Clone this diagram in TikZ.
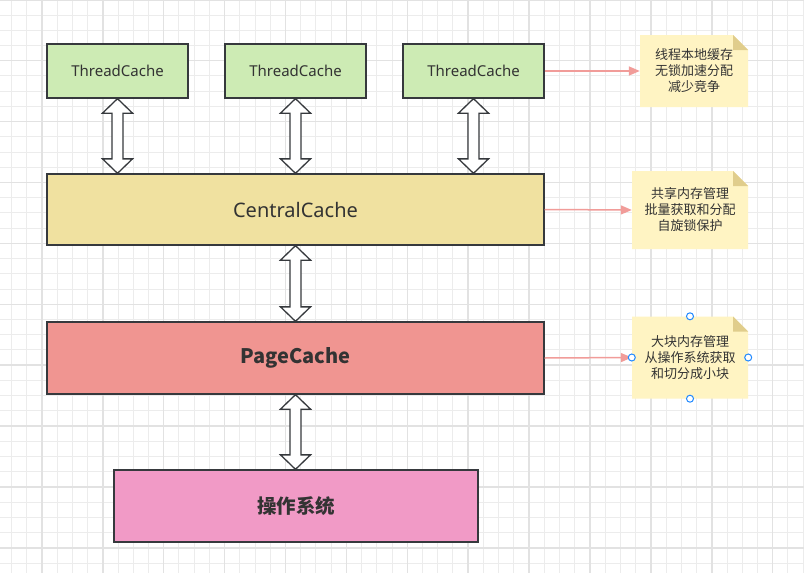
\documentclass[tikz,border=0pt]{standalone}
\usepackage{fontspec}
\setmainfont{Noto Sans}
\newfontfamily\cjk{Noto Sans CJK SC}
\usetikzlibrary{arrows.meta,calc}
\definecolor{strk}{HTML}{36393D}
\definecolor{txt}{HTML}{333333}
\definecolor{tcfill}{HTML}{CDEBB4}
\definecolor{ccfill}{HTML}{F0E1A0}
\definecolor{pcfill}{HTML}{F09591}
\definecolor{osfill}{HTML}{F19AC6}
\definecolor{notefill}{HTML}{FFF4C3}
\definecolor{foldfill}{HTML}{E0CD8C}
\definecolor{connc}{HTML}{F19C99}
\definecolor{minorg}{HTML}{ECECEC}
\definecolor{majorg}{HTML}{E2E2E2}
\definecolor{handlec}{HTML}{1E88FF}
\newcommand\dblarr[2]{\draw[dbl] (#1) -- ++(15pt,-14.5pt) -- ++(-9.5pt,0pt) -- ($(#1 |- #2)+(5.5pt,14.5pt)$) -- ++(9.5pt,0pt) -- (#1 |- #2) -- ++(-15pt,14.5pt) -- ++(9.5pt,0pt) -- ($(#1)+(-5.5pt,-14.5pt)$) -- ++(-9.5pt,0pt) -- cycle;}
\begin{document}
\begin{tikzpicture}[x=1pt,y=-1pt,
  box/.style={draw=strk,line width=1.3pt,inner sep=0pt,text=txt},
  dbl/.style={draw=strk,fill=white,line width=1.3pt,line join=miter},
  notebox/.style={inner sep=0pt,text=txt,align=center,font=\cjk\fontsize{13}{16}\selectfont,
    path picture={
      \fill[notefill] (path picture bounding box.north west) -- ([xshift=-15pt]path picture bounding box.north east) -- ([yshift=-15pt]path picture bounding box.north east) -- (path picture bounding box.south east) -- (path picture bounding box.south west) -- cycle;
      \fill[foldfill] ([xshift=-15pt]path picture bounding box.north east) -- ([xshift=-15pt,yshift=-15pt]path picture bounding box.north east) -- ([yshift=-15pt]path picture bounding box.north east) -- cycle;
    }},
  conn/.style={draw=connc,line width=1.5pt,-{Triangle[length=11pt,width=9pt]}},
  handle/.style={draw=handlec,fill=white,line width=1pt}]
\useasboundingbox (0,0) rectangle (804,573);
\begin{scope}
\clip (0,0) rectangle (804,573);
\fill[white] (0,0) rectangle (804,573);
\foreach \i in {0,...,54} {\draw[minorg,line width=1pt] ({-19+15.225*\i},0) -- ++(0,573);}
\foreach \i in {0,...,38} {\draw[minorg,line width=1pt] (0,{-0.2+15.225*\i}) -- ++(804,0);}
\foreach \i in {0,...,14} {\draw[majorg,line width=1.5pt] ({-19+60.9*\i},0) -- ++(0,573);}
\foreach \i in {0,...,10} {\draw[majorg,line width=1.5pt] (0,{-0.2+60.9*\i}) -- ++(804,0);}
\end{scope}
% boxes
\node[box,fill=tcfill,minimum width=141pt,minimum height=54pt,font=\fontsize{15}{17}\selectfont] (tc1) at (117.5,71) {ThreadCache};
\node[box,fill=tcfill,minimum width=141pt,minimum height=54pt,font=\fontsize{15}{17}\selectfont] (tc2) at (295.5,71) {ThreadCache};
\node[box,fill=tcfill,minimum width=141pt,minimum height=54pt,font=\fontsize{15}{17}\selectfont] (tc3) at (473.5,71) {ThreadCache};
\node[box,fill=ccfill,minimum width=497pt,minimum height=71pt,font=\fontsize{20}{23}\selectfont] (cc) at (295.5,209.5) {CentralCache};
\node[box,fill=pcfill,minimum width=497pt,minimum height=72pt,font=\cjk\bfseries\fontsize{20}{23}\selectfont] (pc) at (295.5,358) {PageCache};
\node[box,fill=osfill,minimum width=364pt,minimum height=72pt,font=\cjk\bfseries\fontsize{19.5}{22}\selectfont] (os) at (296,506) {操作系统};
% double arrows
\dblarr{tc1.south}{cc.north}
\dblarr{tc2.south}{cc.north}
\dblarr{tc3.south}{cc.north}
\dblarr{cc.south}{pc.north}
\dblarr{pc.south}{os.north}
% notes
\node[notebox,minimum width=108pt,minimum height=72pt] (n1) at (694,71) {线程本地缓存\\无锁加速分配\\减少竞争};
\node[notebox,minimum width=116pt,minimum height=78pt] (n2) at (690,210) {共享内存管理\\批量获取和分配\\自旋锁保护};
\node[notebox,minimum width=116pt,minimum height=82pt] (n3) at (690,357.5) {大块内存管理\\从操作系统获取\\和切分成小块};
% connectors
\draw[conn] (tc3.east) -- (n1.west);
\draw[conn] (cc.east) -- (n2.west);
\draw[conn] (pc.east) -- (n3.west);
% selection handles
\draw[handle] (n3.north) circle (3.5pt);
\draw[handle] (n3.south) circle (3.5pt);
\draw[handle] (n3.west) circle (3.5pt);
\draw[handle] (n3.east) circle (3.5pt);
\end{tikzpicture}
\end{document}
